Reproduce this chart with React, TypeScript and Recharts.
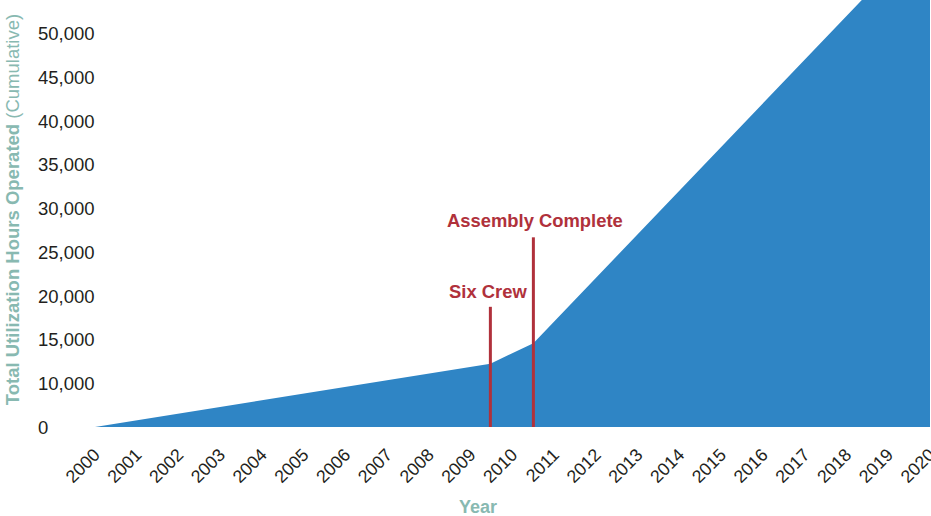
import React from "react";
import { AreaChart, Area, XAxis, YAxis, ReferenceLine } from "recharts";

// Cumulative utilization hours (values as read against the printed axis labels)
const years = [2000, 2009.47, 2010.5, 2020];
const hours = [0, 12250, 14580, 62000];

// X tick labels
const xTicks = [
  2000, 2001, 2002, 2003, 2004, 2005, 2006, 2007, 2008, 2009, 2010,
  2011, 2012, 2013, 2014, 2015, 2016, 2017, 2018, 2019, 2020,
];

// Y tick labels as printed (note: the gap from 0 to 10,000 is drawn as one 5,000 step)
const yTickValues = [0, 10000, 15000, 20000, 25000, 30000, 35000, 40000, 45000, 50000];

// Event markers
const eventNames = ["Six Crew", "Assembly Complete"];
const eventYears = [2009.47, 2010.5];
const eventTops = [18750, 26700];

const BLUE = "#2f85c5";
const RED = "#b0313b";
const TEAL = "#88b9b1";
const TEXT = "#231f20";
const FONT = "'Liberation Sans', Arial, Helvetica, sans-serif";

// The printed axis compresses 0..10,000 into one 5,000 step
const toAxis = (v: number) => (v < 10000 ? 5000 + v / 2 : v);
const fromAxis = (v: number) => (v < 10000 ? (v - 5000) * 2 : v);

const data = years.map((y, i) => ({ year: y, hours: hours[i], plot: toAxis(hours[i]) }));

const YTick = (props: any) => {
  const { y, payload } = props;
  const v = Math.round(fromAxis(payload.value));
  return (
    <text x={38} y={y} dy="0.36em" textAnchor="start" fill={TEXT} fontSize={18.5} fontFamily={FONT}>
      {v.toLocaleString("en-US")}
    </text>
  );
};

const XTick = (props: any) => {
  const { x, payload } = props;
  const ax = x + 6;
  const ay = 456;
  return (
    <text
      x={ax}
      y={ay}
      textAnchor="end"
      fill={TEXT}
      fontSize={17.8}
      fontFamily={FONT}
      transform={`rotate(-45, ${ax}, ${ay})`}
    >
      {payload.value}
    </text>
  );
};

const YTitle = () => (
  <text
    transform="rotate(-90)"
    x={-209.5}
    y={18.5}
    textAnchor="middle"
    fill={TEAL}
    fontSize={18.5}
    fontFamily={FONT}
  >
    <tspan fontWeight="bold">Total Utilization Hours Operated</tspan>
    <tspan> (Cumulative)</tspan>
  </text>
);

const XTitle = () => (
  <text x={478} y={513} textAnchor="middle" fill={TEAL} fontSize={18} fontWeight="bold" fontFamily={FONT}>
    Year
  </text>
);

const makeEventLabel = (text: string, dx: number, dyOff: number) => (props: any) => {
  const vb = props.viewBox || {};
  const cx = (vb.x ?? 0) + (vb.width ?? 0) / 2 + dx;
  const top = vb.y ?? 0;
  return (
    <text x={cx} y={top - dyOff} textAnchor="middle" fill={RED} fontSize={18.4} fontWeight="bold" fontFamily={FONT}>
      {text}
    </text>
  );
};

const labelDx = [-2.5, 1.5];
const labelDy = [8.5, 10];

export default function App() {
  return (
    <div style={{ position: "absolute", left: 0, top: 0, background: "#fff" }}>
      <AreaChart width={931} height={516} data={data} margin={{ top: 0, right: 1, bottom: 0, left: 0 }}>
        <XAxis
          dataKey="year"
          type="number"
          domain={[2000, 2020]}
          ticks={xTicks}
          interval={0}
          axisLine={false}
          tickLine={false}
          height={89}
          tick={<XTick />}
          label={{ content: <XTitle /> }}
        />
        <YAxis
          type="number"
          domain={[5000, 53850]}
          allowDataOverflow
          ticks={yTickValues.map(toAxis)}
          interval={0}
          axisLine={false}
          tickLine={false}
          width={95}
          tick={<YTick />}
          label={{ content: <YTitle /> }}
        />
        <Area
          type="linear"
          dataKey="plot"
          stroke="none"
          fill={BLUE}
          fillOpacity={1}
          isAnimationActive={false}
          dot={false}
          activeDot={false}
        />
        {eventYears.map((ey, i) => (
          <ReferenceLine
            key={eventNames[i]}
            segment={[
              { x: ey, y: toAxis(0) },
              { x: ey, y: toAxis(eventTops[i]) },
            ]}
            stroke={RED}
            strokeWidth={3}
            label={{ content: makeEventLabel(eventNames[i], labelDx[i], labelDy[i]) }}
          />
        ))}
      </AreaChart>
    </div>
  );
}
